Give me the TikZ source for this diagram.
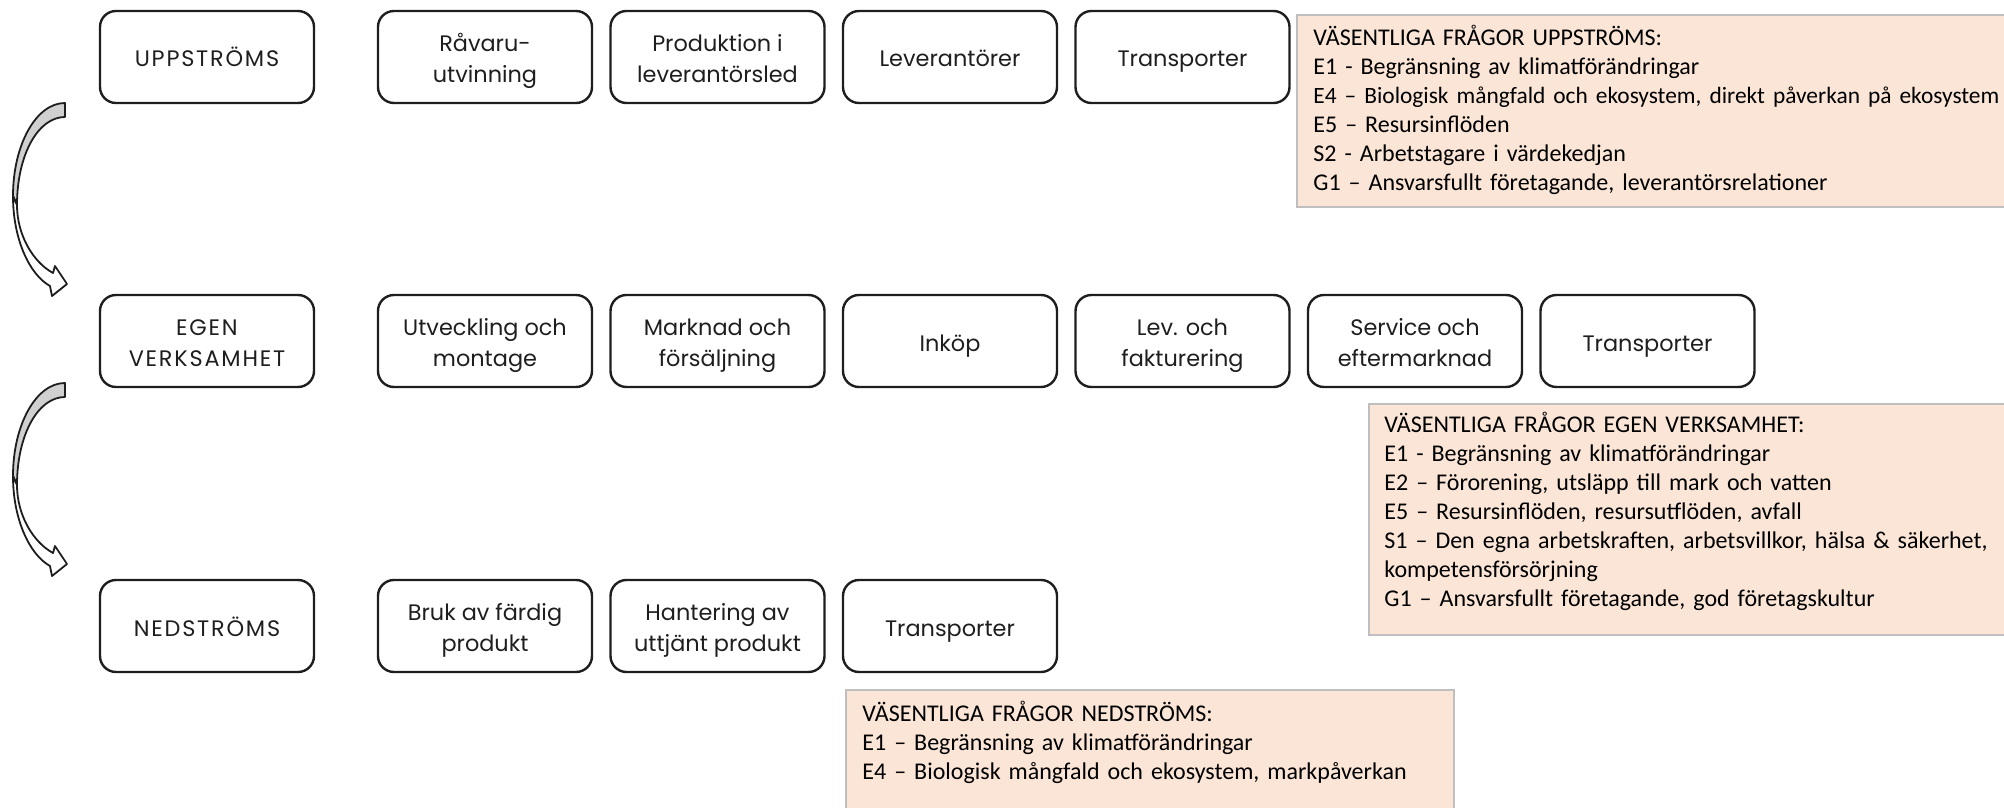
\documentclass[tikz,border=0pt]{standalone}
\usepackage{fontspec}
\setmainfont{Carlito}
\newfontfamily\boxfont{Poppins}
\newfontfamily\capsfont[LetterSpace=8]{Poppins}
\definecolor{peach}{HTML}{FBE5D6}
\definecolor{framegray}{HTML}{BFBFBF}
\definecolor{backgray}{HTML}{D0D0D0}
\definecolor{ink}{HTML}{1E1E1E}

\begin{document}
\begin{tikzpicture}[x=0.5pt, y=-0.5pt,
    stage/.style={draw=ink, text=ink, rounded corners=8pt, line width=1.2pt, minimum width=107pt, minimum height=46pt, align=center, inner sep=2pt, font=\boxfont\fontsize{11.2}{15.5}\selectfont,
        execute at begin node={\rule{0pt}{14pt}}, execute at end node={\rule[-4pt]{0pt}{0pt}}},
    pair/.style={stage, execute at begin node={\rule{0pt}{29.5pt}}},
    head/.style={stage, font=\capsfont\fontsize{11.2}{15.5}\selectfont},
    issuebox/.style={fill=peach, draw=framegray, line width=1pt},
    issues/.style={anchor=base west, inner sep=0pt, text width=400pt, align=left, font=\fontsize{12}{14.5}\selectfont},
    turnarrow/.style={draw=ink, line width=0.9pt, line join=round}]
    \useasboundingbox (0,0) rectangle (2004,808);
    \clip (0,0) rectangle (2004,808);

    % Upstream
    \node[head] (u0) at (207,57) {UPPSTRÖMS};
    \node[pair] (u1) at (485,57) {Råvaru-\\utvinning};
    \node[pair] (u2) at (717.5,57) {Produktion i\\leverantörsled};
    \node[stage] (u3) at (950,57) {Leverantörer};
    \node[stage] (u4) at (1182.5,57) {Transporter};

    % Own operations
    \node[pair, head] (e0) at (207,341) {EGEN\\VERKSAMHET};
    \node[pair] (e1) at (485,341) {Utveckling och\\montage};
    \node[pair] (e2) at (717.5,341) {Marknad och\\försäljning};
    \node[stage] (e3) at (950,341) {Inköp};
    \node[pair] (e4) at (1182.5,341) {Lev. och\\fakturering};
    \node[pair] (e5) at (1415,341) {Service och\\eftermarknad};
    \node[stage] (e6) at (1647.5,341) {Transporter};

    % Downstream
    \node[head] (n0) at (207,626) {NEDSTRÖMS};
    \node[pair] (n1) at (485,626) {Bruk av färdig\\produkt};
    \node[pair] (n2) at (717.5,626) {Hantering av\\uttjänt produkt};
    \node[stage] (n3) at (950,626) {Transporter};

    % Material issues
    \draw[issuebox] (1297,15) rectangle (2030,207);
    \node[issues] (fu) at (1313,46) {VÄSENTLIGA FRÅGOR UPPSTRÖMS:\\
        E1 - Begränsning av klimatförändringar\\
        {\fontsize{11.7}{14.5}\selectfont E4 – Biologisk mångfald och ekosystem, direkt påverkan på ekosystem}\\
        E5 – Resursinflöden\\
        S2 - Arbetstagare i värdekedjan\\
        G1 – Ansvarsfullt företagande, leverantörsrelationer};

    \draw[issuebox] (1369,404) rectangle (2030,635);
    \node[issues] (fe) at (1384,432) {VÄSENTLIGA FRÅGOR EGEN VERKSAMHET:\\
        E1 - Begränsning av klimatförändringar\\
        E2 – Förorening, utsläpp till mark och vatten\\
        E5 – Resursinflöden, resursutflöden, avfall\\
        S1 – Den egna arbetskraften, arbetsvillkor, hälsa \& säkerhet,\\
        kompetensförsörjning\\
        G1 – Ansvarsfullt företagande, god företagskultur};

    \draw[issuebox] (846,690) rectangle (1454,830);
    \node[issues] (fn) at (862,721) {VÄSENTLIGA FRÅGOR NEDSTRÖMS:\\
        E1 – Begränsning av klimatförändringar\\
        E4 – Biologisk mångfald och ekosystem, markpåverkan};

    % Curved arrows
    \filldraw[turnarrow, fill=backgray] (65,103) .. controls (36,103) and (13,145) .. (13,196) -- (17,205) .. controls (17,155) and (38,117) .. (65,117) -- cycle;
    \filldraw[turnarrow, fill=white] (13,196) .. controls (13,240) and (30,275) .. (50,286) -- (52,296) -- (67,284) -- (55,266) -- (53,273) .. controls (33,262) and (17,235) .. (17,205) -- cycle;
    \filldraw[turnarrow, fill=backgray, shift={(0,280)}] (65,103) .. controls (36,103) and (13,145) .. (13,196) -- (17,205) .. controls (17,155) and (38,117) .. (65,117) -- cycle;
    \filldraw[turnarrow, fill=white, shift={(0,280)}] (13,196) .. controls (13,240) and (30,275) .. (50,286) -- (52,296) -- (67,284) -- (55,266) -- (53,273) .. controls (33,262) and (17,235) .. (17,205) -- cycle;
\end{tikzpicture}
\end{document}
